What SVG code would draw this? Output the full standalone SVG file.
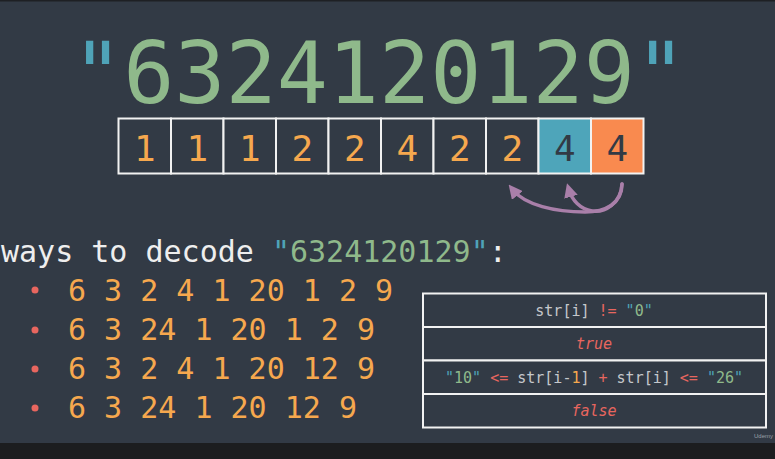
<svg xmlns="http://www.w3.org/2000/svg" width="775" height="459" viewBox="0 0 775 459">
<style>
.mono{font-family:"DejaVu Sans Mono","Liberation Mono",monospace}
.cell{fill:#323a45;stroke:#f2f2f2;stroke-width:2}
.dg{font-size:36px;fill:#f6a84e;text-anchor:middle}
.g{fill:#8fb98b}.b{fill:#4fa3b8}.w{fill:#eeeeee}.o{fill:#f6a84e}.r{fill:#e8665f}.gr{fill:#c5c8cc}
.row{fill:#323a45;stroke:#f2f2f2;stroke-width:2}
.tt{font-size:15px;text-anchor:middle}
.li{font-size:30px;fill:#f6a84e}
.arr{fill:none;stroke:#a97fa9;stroke-width:3.5;stroke-linecap:round}
</style>
<defs>
<marker id="ah" viewBox="0 0 10 10" refX="5" refY="5" markerWidth="4" markerHeight="4" orient="auto-start-reverse" markerUnits="strokeWidth">
<path d="M0,0 L10,5 L0,10 Z" fill="#a97fa9"/>
</marker>
</defs>
<rect x="0" y="0" width="775" height="459" fill="#323a45"/>
<rect x="0" y="0" width="775" height="1.5" fill="#1e2024"/>
<rect x="0" y="443" width="775" height="16" fill="#1c1d1f"/>

<g id="title" class="mono">
<text x="379" y="103" font-size="85" text-anchor="middle"><tspan class="b">"</tspan><tspan class="g">6324120129</tspan><tspan class="b">"</tspan></text>
</g>

<g id="array" class="mono">
<rect class="cell" x="118.5" y="118.5" width="52.5" height="55"/>
<rect class="cell" x="171" y="118.5" width="52.5" height="55"/>
<rect class="cell" x="223.5" y="118.5" width="52.5" height="55"/>
<rect class="cell" x="276" y="118.5" width="52.5" height="55"/>
<rect class="cell" x="328.5" y="118.5" width="52.5" height="55"/>
<rect class="cell" x="381" y="118.5" width="52.5" height="55"/>
<rect class="cell" x="433.5" y="118.5" width="52.5" height="55"/>
<rect class="cell" x="486" y="118.5" width="52.5" height="55"/>
<rect class="cell" x="538.5" y="118.5" width="52.5" height="55" style="fill:#4ea5ba"/>
<rect class="cell" x="591" y="118.5" width="52.5" height="55" style="fill:#f98a4f"/>
<text class="dg" x="144.75" y="161">1</text>
<text class="dg" x="197.25" y="161">1</text>
<text class="dg" x="249.75" y="161">1</text>
<text class="dg" x="302.25" y="161">2</text>
<text class="dg" x="354.75" y="161">2</text>
<text class="dg" x="407.25" y="161">4</text>
<text class="dg" x="459.75" y="161">2</text>
<text class="dg" x="512.25" y="161">2</text>
<text class="dg" x="564.75" y="161" style="fill:#323a45">4</text>
<text class="dg" x="617.25" y="161" style="fill:#323a45">4</text>
</g>

<g id="connectors">
<path class="arr" d="M622,184 C622,204 605,212 585,212 C555,212 525,205 513,190" marker-end="url(#ah)"/>
<path class="arr" d="M622,184 C621,203 605,213 592,211 C580,209 572,200 569,190" marker-end="url(#ah)"/>
</g>

<g id="heading" class="mono">
<text x="1" y="262" font-size="30"><tspan class="w">ways to decode </tspan><tspan class="b">"</tspan><tspan class="g">6324120129</tspan><tspan class="b">"</tspan><tspan class="w">:</tspan></text>
</g>

<g id="list" class="mono">
<circle cx="35" cy="290" r="3.5" fill="#e8665f"/>
<circle cx="35" cy="330" r="3.5" fill="#e8665f"/>
<circle cx="35" cy="369" r="3.5" fill="#e8665f"/>
<circle cx="35" cy="408" r="3.5" fill="#e8665f"/>
<text class="li" x="68" y="301">6 3 2 4 1 20 1 2 9</text>
<text class="li" x="68" y="340">6 3 24 1 20 1 2 9</text>
<text class="li" x="68" y="379">6 3 2 4 1 20 12 9</text>
<text class="li" x="68" y="418">6 3 24 1 20 12 9</text>
</g>

<g id="table" class="mono">
<rect class="row" x="423" y="293.5" width="343" height="33.5"/>
<rect class="row" x="423" y="327" width="343" height="33.5"/>
<rect class="row" x="423" y="360.5" width="343" height="33.5"/>
<rect class="row" x="423" y="394" width="343" height="33.5"/>
<text class="tt" x="594" y="316"><tspan class="gr">str[i] </tspan><tspan class="r">!=</tspan><tspan class="gr"> </tspan><tspan class="b">"</tspan><tspan class="g">0</tspan><tspan class="b">"</tspan></text>
<text class="tt r" x="594" y="349" font-style="italic">true</text>
<text class="tt" x="594" y="382.5"><tspan class="b">"</tspan><tspan class="g">10</tspan><tspan class="b">"</tspan><tspan class="r"> &lt;= </tspan><tspan class="gr">str[i-</tspan><tspan class="o">1</tspan><tspan class="gr">] </tspan><tspan class="r">+</tspan><tspan class="gr"> str[i] </tspan><tspan class="r">&lt;=</tspan><tspan class="gr"> </tspan><tspan class="b">"</tspan><tspan class="g">26</tspan><tspan class="b">"</tspan></text>
<text class="tt r" x="594" y="416" font-style="italic">false</text>
</g>

<g id="watermark">
<text x="754" y="438" font-family="Liberation Sans, sans-serif" font-size="6" fill="#9aa0a8">Udemy</text>
</g>
</svg>
